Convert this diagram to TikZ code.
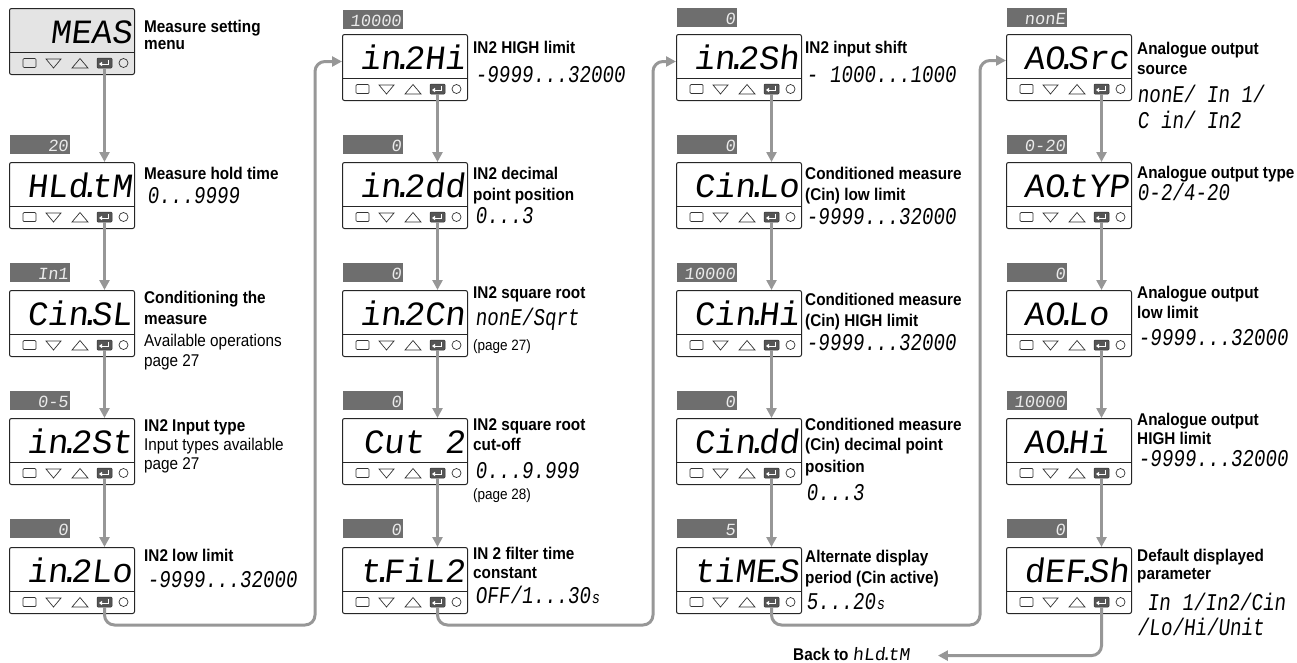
\documentclass[tikz,border=0pt]{standalone}
\usepackage{fontspec}
\setmainfont{Liberation Sans}[FakeStretch=0.9]
\newfontfamily\lcdfont{Liberation Mono}[FakeSlant=0.12]
\newfontfamily\lcdnfont{Liberation Mono}[FakeSlant=0.12,FakeStretch=0.8]
\usetikzlibrary{calc,arrows.meta}
\definecolor{arrgray}{HTML}{979797}
\definecolor{taggray}{HTML}{6E6E6E}
\definecolor{dispfill}{HTML}{E4E4E4}
\definecolor{btngray}{HTML}{555555}
\newcommand\segdot{\kern1.5pt\makebox[0pt]{.}\kern1.5pt}
\newcommand\bigdisp{\lcdfont\fontsize{34}{34}\selectfont}
\newcommand\rng{\lcdnfont\fontsize{24}{24}\selectfont}
\newcommand\tagfont{\lcdfont\fontsize{17}{17}\selectfont}
\newcommand\descb{\fontsize{17}{21}\selectfont\bfseries}
\newcommand\descr{\fontsize{17}{21}\selectfont}
\newcommand\descs{\fontsize{15}{18}\selectfont}
\tikzset{
  disp/.style={draw=black!85, line width=1pt, rounded corners=2pt, minimum width=125pt, minimum height=66pt, inner sep=0pt, anchor=north west},
  disptext/.style={anchor=base east, inner sep=0pt, font=\bigdisp},
  btn/.style={draw=black!80, line width=0.7pt},
  enterbtn/.style={fill=btngray, draw=black!80, line width=0.5pt, rounded corners=1pt, minimum width=15pt, minimum height=10pt, inner sep=0pt},
  tagbox/.style={fill=taggray, minimum width=60pt, minimum height=19pt, anchor=north west, inner sep=0pt},
  tagtext/.style={anchor=base east, inner sep=0pt, font=\tagfont, text=black!8},
  lab/.style={anchor=base west, inner sep=0pt},
  arr/.style={draw=arrgray, line width=3pt, -{Triangle[length=10pt,width=10pt]}},
}
% name, x, y, text, fill
\newcommand\panel[5]{%
  \node[disp, fill=#5] (#1) at (#2,#3) {};
  \draw[line width=1pt, black!85] ($(#1.north west)+(0,44)$) -- ($(#1.north east)+(0,44)$);
  \node[disptext] (#1t) at ($(#1.north east)+(-3,35)$) {#4};
  \draw[btn, rounded corners=1pt] ($(#1.north west)+(14,50.5)$) rectangle ($(#1.north west)+(27,59.5)$);
  \draw[btn] ($(#1.north west)+(37,51)$) -- ($(#1.north west)+(52,51)$) -- ($(#1.north west)+(44.5,60)$) -- cycle;
  \draw[btn] ($(#1.north west)+(63,60)$) -- ($(#1.north west)+(79,60)$) -- ($(#1.north west)+(71,50.5)$) -- cycle;
  \node[enterbtn] (#1e) at ($(#1.north west)+(95.5,55)$) {};
  \draw[white, line width=0.8pt] ($(#1e.center)+(4,-3)$) -- ($(#1e.center)+(4,1)$) -- ($(#1e.center)+(-3,1)$);
  \fill[white] ($(#1e.center)+(-5.5,1)$) -- ($(#1e.center)+(-2.5,-1.2)$) -- ($(#1e.center)+(-2.5,3.2)$) -- cycle;
  \draw[btn] ($(#1.north west)+(114.5,55)$) circle[radius=4.5pt];
}
% name, x, y, text
\newcommand\tagv[4]{%
  \node[tagbox] (#1) at (#2,#3) {};
  \node[tagtext] (#1t) at ($(#1.south east)+(-2,-3)$) {#4};
}
% name, x, y, text
\newcommand\lbl[4]{\node[lab] (#1) at (#2,#3) {#4};}
\begin{document}
\begin{tikzpicture}[x=1pt, y=-1pt]
\useasboundingbox (0,0) rectangle (1297,662);
% ---------- column 1 ----------
\panel{A1}{9}{8}{MEAS}{dispfill}
\tagv{TA2}{10}{135}{20}
\panel{A2}{9}{162}{HLd\segdot tM}{white}
\tagv{TA3}{10}{263}{In1}
\panel{A3}{9}{290}{Cin\segdot SL}{white}
\tagv{TA4}{10}{391}{0-5}
\panel{A4}{9}{418}{in\segdot 2St}{white}
\tagv{TA5}{10}{519}{0}
\panel{A5}{9}{547}{in\segdot 2Lo}{white}
\lbl{a1a}{144}{32}{\descb Measure setting}
\lbl{a1b}{144}{49}{\descb menu}
\lbl{a2a}{144}{179}{\descb Measure hold time}
\lbl{a2b}{147}{203}{\rng 0...9999}
\lbl{a3a}{144}{303}{\descb Conditioning the}
\lbl{a3b}{144}{324}{\descb measure}
\lbl{a3c}{144}{346}{\descr Available operations}
\lbl{a3d}{144}{366}{\descr page 27}
\lbl{a4a}{144}{431}{\descb IN2 Input type}
\lbl{a4b}{144}{450}{\descr Input types available}
\lbl{a4c}{144}{469}{\descr page 27}
\lbl{a5a}{144}{561}{\descb IN2 low limit}
\lbl{a5b}{147}{587}{\rng -9999...32000}
% ---------- column 2 ----------
\tagv{TB1}{343}{10}{10000}
\panel{B1}{342}{34}{in\segdot 2Hi}{white}
\tagv{TB2}{343}{135}{0}
\panel{B2}{342}{162}{in\segdot 2dd}{white}
\tagv{TB3}{343}{263}{0}
\panel{B3}{342}{290}{in\segdot 2Cn}{white}
\tagv{TB4}{343}{391}{0}
\panel{B4}{342}{418}{Cut 2}{white}
\tagv{TB5}{343}{519}{0}
\panel{B5}{342}{547}{t\segdot FiL2}{white}
\lbl{b1a}{473}{53}{\descb IN2 HIGH limit}
\lbl{b1b}{475}{82}{\rng -9999...32000}
\lbl{b2a}{473}{179}{\descb IN2 decimal}
\lbl{b2b}{473}{200}{\descb point position}
\lbl{b2c}{475}{223}{\rng 0...3}
\lbl{b3a}{473}{298}{\descb IN2 square root}
\lbl{b3b}{475}{325}{\rng nonE/Sqrt}
\lbl{b3c}{473}{350}{\descs (page 27)}
\lbl{b4a}{473}{430}{\descb IN2 square root}
\lbl{b4b}{473}{450}{\descb cut-off}
\lbl{b4c}{475}{478}{\rng 0...9.999}
\lbl{b4d}{473}{499}{\descs (page 28)}
\lbl{b5a}{473}{559}{\descb IN 2 filter time}
\lbl{b5b}{473}{578}{\descb constant}
\lbl{b5c}{475}{603}{\rng OFF/1...30\kern1pt{\descr s}}
% ---------- column 3 ----------
\tagv{TC1}{677}{8}{0}
\panel{C1}{676}{34}{in\segdot 2Sh}{white}
\tagv{TC2}{677}{135}{0}
\panel{C2}{676}{162}{Cin\segdot Lo}{white}
\tagv{TC3}{677}{263}{10000}
\panel{C3}{676}{290}{Cin\segdot Hi}{white}
\tagv{TC4}{677}{391}{0}
\panel{C4}{676}{418}{Cin\segdot dd}{white}
\tagv{TC5}{677}{519}{5}
\panel{C5}{676}{547}{tiME\segdot S}{white}
\lbl{c1a}{805}{53}{\descb IN2 input shift}
\lbl{c1b}{806}{82}{\rng - 1000...1000}
\lbl{c2a}{805}{179}{\descb Conditioned measure}
\lbl{c2b}{805}{200}{\descb (Cin) low limit}
\lbl{c2c}{806}{224}{\rng -9999...32000}
\lbl{c3a}{805}{305}{\descb Conditioned measure}
\lbl{c3b}{805}{326}{\descb (Cin) HIGH limit}
\lbl{c3c}{806}{350}{\rng -9999...32000}
\lbl{c4a}{805}{430}{\descb Conditioned measure}
\lbl{c4b}{805}{450}{\descb (Cin) decimal point}
\lbl{c4c}{805}{472}{\descb position}
\lbl{c4d}{806}{500}{\rng 0...3}
\lbl{c5a}{805}{562}{\descb Alternate display}
\lbl{c5b}{805}{583}{\descb period (Cin active)}
\lbl{c5c}{806}{609}{\rng 5...20\kern1pt{\descr s}}
\lbl{back}{793}{660}{\descb Back to {\lcdfont\fontsize{18}{18}\selectfont\mdseries hLd\segdot tM}}
% ---------- column 4 ----------
\tagv{TD1}{1007}{8}{nonE}
\panel{D1}{1006}{34}{AO\segdot Src}{white}
\tagv{TD2}{1007}{135}{0-20}
\panel{D2}{1006}{162}{AO\segdot tYP}{white}
\tagv{TD3}{1007}{263}{0}
\panel{D3}{1006}{290}{AO\segdot Lo\phantom{0}}{white}
\tagv{TD4}{1007}{391}{10000}
\panel{D4}{1006}{418}{AO\segdot Hi\phantom{0}}{white}
\tagv{TD5}{1007}{519}{0}
\panel{D5}{1006}{547}{dEF\segdot Sh}{white}
\lbl{d1a}{1137}{54}{\descb Analogue output}
\lbl{d1b}{1137}{74}{\descb source}
\lbl{d1c}{1137}{102}{\rng nonE/ In 1/}
\lbl{d1d}{1137}{128}{\rng C in/ In2}
\lbl{d2a}{1137}{178}{\descb Analogue output type}
\lbl{d2b}{1137}{200}{\rng 0-2/4-20}
\lbl{d3a}{1137}{298}{\descb Analogue output}
\lbl{d3b}{1137}{318}{\descb low limit}
\lbl{d3c}{1138}{345}{\rng -9999...32000}
\lbl{d4a}{1137}{425}{\descb Analogue output}
\lbl{d4b}{1137}{444}{\descb HIGH limit}
\lbl{d4c}{1138}{466}{\rng -9999...32000}
\lbl{d5a}{1137}{561}{\descb Default displayed}
\lbl{d5b}{1137}{579}{\descb parameter}
\lbl{d5c}{1147}{610}{\rng In 1/In2/Cin}
\lbl{d5d}{1137}{635}{\rng /Lo/Hi/Unit}
% ---------- connectors ----------
\foreach \c in {A,B,C,D}{
  \foreach \i/\j in {1/2,2/3,3/4,4/5}{
    \draw[arr] (\c\i e.south) -- (\c\i e.south |- \c\j.north);
  }
}
\coordinate (L1) at (315,625);
\coordinate (L2) at (653,625);
\coordinate (L3) at (980,625);
\draw[arr, rounded corners=10pt] (A5e.south) |- (L1) |- ($(B1.west)+(0,-6)$);
\draw[arr, rounded corners=10pt] (B5e.south) |- (L2) |- ($(C1.west)+(0,-6)$);
\draw[arr, rounded corners=10pt] (C5e.south) |- (L3) |- ($(D1.west)+(0,-7)$);
\draw[arr, rounded corners=10pt] (D5e.south) |- ($(back.east)+(28,2)$);
\end{tikzpicture}
\end{document}
